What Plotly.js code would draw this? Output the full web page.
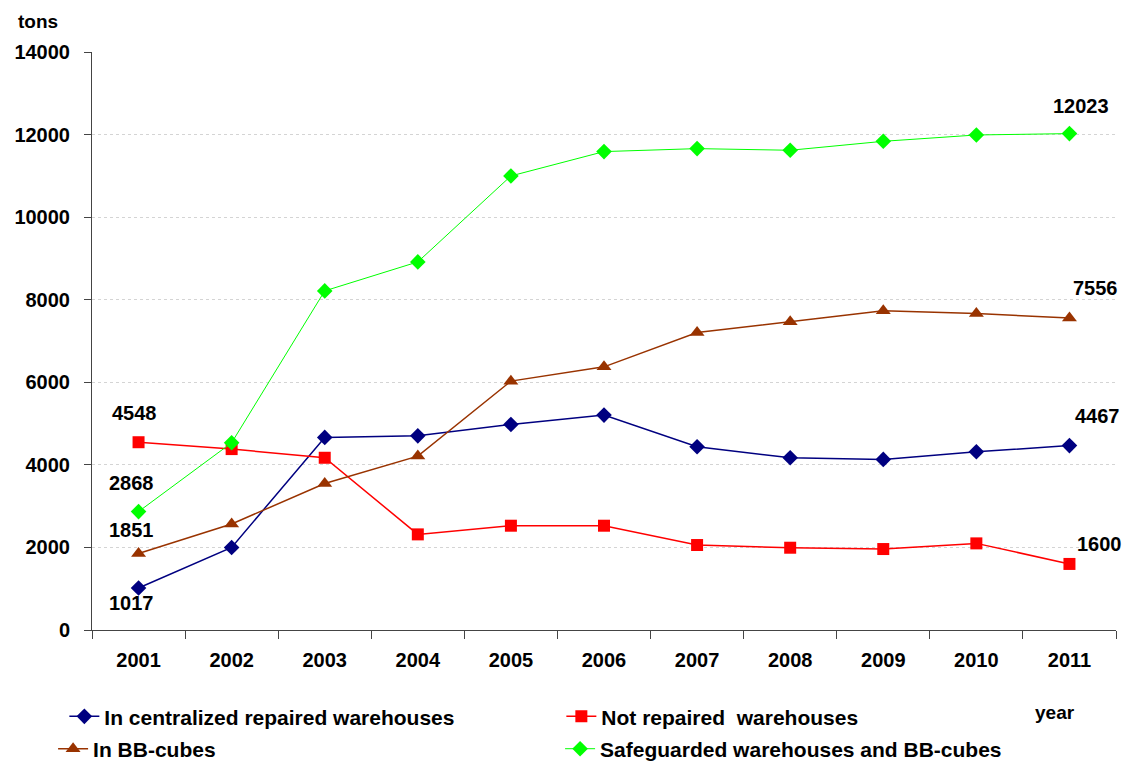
<!DOCTYPE html>
<html>
<head>
<meta charset="utf-8">
<script src="https://cdn.plot.ly/plotly-3.0.1.min.js"></script>
<style>html,body{margin:0;padding:0;background:#fff;}#chart{width:1126px;height:762px;}</style>
</head>
<body>
<div id="chart"></div>
<script>
const years = ["2001","2002","2003","2004","2005","2006","2007","2008","2009","2010","2011"];
const centralized = [1017, 2000, 4665, 4703, 4979, 5205, 4438, 4171, 4132, 4317, 4467];
const notRepaired = [4548, 4382, 4172, 2316, 2526, 2526, 2058, 1993, 1961, 2098, 1600];
const bbCubes = [1851, 2566, 3550, 4212, 6028, 6374, 7206, 7464, 7730, 7666, 7556];
const safeguarded = [2868, 4535, 8214, 8916, 10998, 11588, 11660, 11620, 11837, 11990, 12023];
const seriesNames = ["In centralized repaired warehouses", "Not repaired  warehouses", "In BB-cubes", "Safeguarded warehouses and BB-cubes"];
const yTicks = [0, 2000, 4000, 6000, 8000, 10000, 12000, 14000];

const FONT = "Liberation Sans, Arial, sans-serif";

const traces = [
  {x: years, y: centralized, name: seriesNames[0], type: "scatter", mode: "lines+markers",
   line: {color: "#000080", width: 1.5}, marker: {symbol: "diamond", size: 12, color: "#000080"}, legend: "legend"},
  {x: years, y: notRepaired, name: seriesNames[1], type: "scatter", mode: "lines+markers",
   line: {color: "#FF0000", width: 1.5}, marker: {symbol: "square", size: 12, color: "#FF0000"}, legend: "legend"},
  {x: years, y: bbCubes, name: seriesNames[2], type: "scatter", mode: "lines+markers",
   line: {color: "#993300", width: 1.5}, marker: {symbol: "triangle-up", size: 13, color: "#993300"}, legend: "legend2"},
  {x: years, y: safeguarded, name: seriesNames[3], type: "scatter", mode: "lines+markers",
   line: {color: "#00FF00", width: 1}, marker: {symbol: "diamond", size: 12, color: "#00FF00"}, legend: "legend2"}
];

const lab = (series, i, xs, ys) => ({
  x: i, y: series[i], text: String(series[i]), showarrow: false,
  xshift: xs, yshift: ys, font: {family: FONT, size: 20, color: "#000", weight: "bold"}
});
const last = years.length - 1;
const annotations = [
  lab(notRepaired, 0, -4, 29),
  lab(safeguarded, 0, -7, 29),
  lab(bbCubes, 0, -7, 24),
  lab(centralized, 0, -7, -15),
  lab(safeguarded, last, 12, 28),
  lab(bbCubes, last, 26, 30),
  lab(centralized, last, 28, 30),
  lab(notRepaired, last, 30, 20),
  {xref: "paper", yref: "paper", x: -0.053, y: 1.052, xanchor: "center", yanchor: "middle",
   text: "tons", showarrow: false,
   font: {family: FONT, size: 19, color: "#000", weight: "bold"}},
  {xref: "paper", yref: "paper", x: 0.940, y: -0.142, xanchor: "center", yanchor: "middle",
   text: "year", showarrow: false,
   font: {family: FONT, size: 19, color: "#000", weight: "bold"}}
];

const legendBase = {
  orientation: "h", xanchor: "left", yanchor: "middle",
  entrywidthmode: "pixels",
  font: {family: FONT, size: 21, color: "#000", weight: "bold"},
  bgcolor: "rgba(0,0,0,0)", borderwidth: 0, traceorder: "normal"
};

const layout = {
  width: 1126, height: 762,
  margin: {l: 92, r: 10, t: 52, b: 132, autoexpand: false},
  paper_bgcolor: "#fff", plot_bgcolor: "#fff",
  showlegend: true,
  legend: Object.assign({}, legendBase, {x: -0.027, y: -0.150, entrywidth: 452}),
  legend2: Object.assign({}, legendBase, {x: -0.038, y: -0.206, entrywidth: 462}),
  xaxis: {
    type: "category", range: [-0.5, 10.5],
    showline: true, linecolor: "#444", linewidth: 1,
    ticks: "outside", tickson: "boundaries", ticklen: 8, tickcolor: "#444",
    ticklabelstandoff: 12,
    showgrid: false, zeroline: false,
    tickfont: {family: FONT, size: 20, color: "#000", weight: "bold"}
  },
  yaxis: {
    range: [0, 14000], tickvals: yTicks, ticktext: yTicks.map(String),
    showline: true, linecolor: "#444", linewidth: 1,
    ticks: "outside", ticklen: 7, tickcolor: "#444",
    ticklabelstandoff: 10,
    showgrid: true, gridcolor: "#d4d4d4", griddash: "dot", gridwidth: 1,
    zeroline: false,
    tickfont: {family: FONT, size: 20, color: "#000", weight: "bold"}
  },
  annotations: annotations
};

Plotly.newPlot("chart", traces, layout, {displayModeBar: false, staticPlot: true});
</script>
</body>
</html>
